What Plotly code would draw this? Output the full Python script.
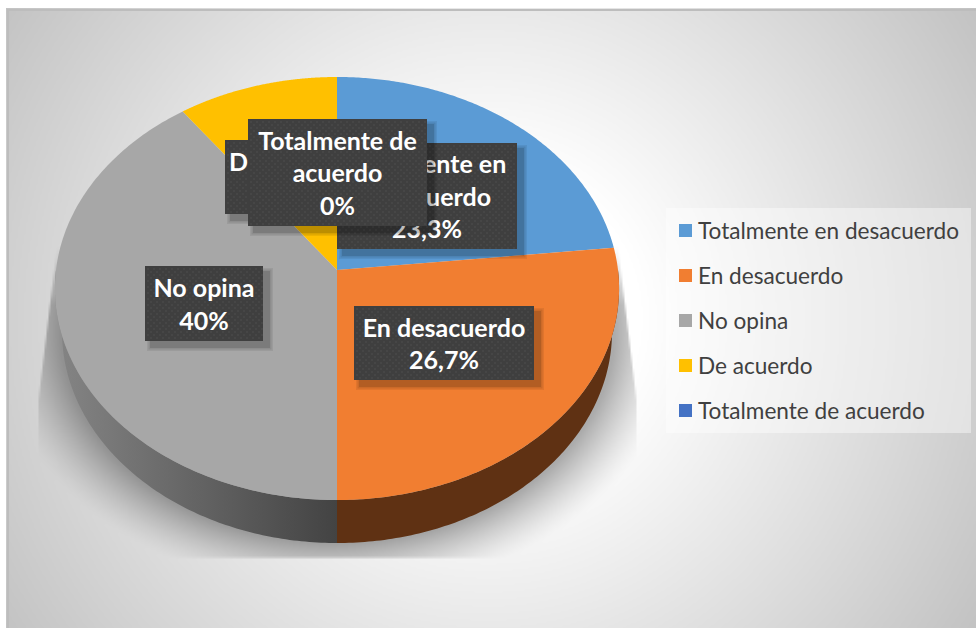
import numpy as np
import plotly.graph_objects as go

categories = ["Totalmente en desacuerdo", "En desacuerdo", "No opina", "De acuerdo", "Totalmente de acuerdo"]
values = [23.3, 26.7, 40, 10, 0]
face_colors = ["#5B9BD5", "#F17E31", "#A7A7A7", "#FFC000", "#4472C4"]
wall_colors = ["#3A5F82", "#5F3113", None, "#9A7400", "#29457A"]
label_lines = [["Totalmente en", "desacuerdo"], ["En desacuerdo"], ["No opina"], ["De acuerdo"], ["Totalmente de", "acuerdo"]]
# label box: left, top, right, bottom (page pixels)
label_boxes = [(337, 143, 517, 249), (354, 306, 534, 380), (145, 266, 263, 341), (225, 140, 361, 214), (248, 119, 427, 226)]

W, H = 976, 628
CX, CY, RX, RY, P = 337.0, 270.0, 281.0, 209.9, 0.0875
DEPTH = 43.0
WALL_SX = 0.975
FONT = "Lato"


def rim(theta_deg, shift=0.0, sx=1.0):
    t = np.radians(theta_deg)
    k = 1 / (1 + P * np.cos(t))
    return CX + RX * sx * np.sin(t) * k, CY + shift - RY * np.cos(t) * k


def background():
    step = 2
    xs = np.arange(7, W + step, step, dtype=float)
    ys = np.arange(9, H + step, step, dtype=float)
    X, Y = np.meshgrid(xs, ys)
    r = np.hypot(X - 488, Y - 318)
    g = 255 - 61 * np.clip((r - 150) / 430, 0, 1.1)
    # soft shadow under the pie, clipped to a trapezoid
    rho = np.hypot((X - CX) / 277, (Y - (CY + DEPTH + 18)) / 212)
    d = (rho - 1) * 230
    alpha = 0.33 * np.clip(1 - d / 55, 0, 1) ** 1.4
    yy = np.clip((Y - 250) / 150, 0, 1)
    mask = np.clip((X - (55 - 18 * yy)) / 2, 0, 1) * np.clip(((619 + 18 * yy) - X) / 2, 0, 1)
    mask = mask * np.clip((558 - Y) / 1.5, 0, 1) * np.clip((Y - 245) / 60, 0, 1)
    g = g * (1 - alpha * mask)
    return xs, ys, np.round(g).astype(np.uint8)


fig = go.Figure()
xs, ys, zz = background()
fig.add_trace(go.Heatmap(x=xs, y=ys, z=zz, zmin=0, zmax=255, zsmooth="best", showscale=False, hoverinfo="skip",
                         colorscale=[[0, "#000000"], [1, "#ffffff"]]))

# pie geometry from the values
total = sum(values)
edges = np.concatenate([[0], np.cumsum(values)]) / total * 360

# side walls
for i, cat in enumerate(categories):
    a, b = max(edges[i], 90), min(edges[i + 1], 270)
    if b <= a:
        continue
    th = np.linspace(a, b, 120)
    x1, y1 = rim(th)
    x2, y2 = rim(th[::-1], DEPTH, WALL_SX)
    kw = dict(fillcolor=wall_colors[i]) if wall_colors[i] else dict(
        fillgradient=dict(type="horizontal", start=55, stop=337, colorscale=[[0, "#858585"], [1, "#434343"]]))
    fig.add_trace(go.Scatter(x=np.r_[x1, x2], y=np.r_[y1, y2], fill="toself", mode="none", showlegend=False,
                             hoverinfo="skip", name=cat + " (lado)", **kw))

# top faces
for i, cat in enumerate(categories):
    if values[i] <= 0:
        continue
    th = np.linspace(edges[i], edges[i + 1], 160)
    x1, y1 = rim(th)
    fig.add_trace(go.Scatter(x=np.r_[CX, x1, CX], y=np.r_[CY, y1, CY], fill="toself", mode="none",
                             fillcolor=face_colors[i], name=cat, showlegend=False))


def rect(l, t, r, b):
    return [l, r, r, l, l], [t, t, b, b, t]


# data label boxes, drawn in stacking order
for i in [0, 1, 2, 3, 4]:
    l, t, r, b = label_boxes[i]
    for grow, op in [(4, 0.07), (2.5, 0.09), (1, 0.12)]:
        sx, sy = rect(l + 6 - grow, t + 6 - grow, r + 6 + grow, b + 6 + grow)
        fig.add_trace(go.Scatter(x=sx, y=sy, fill="toself", mode="none", fillcolor=f"rgba(0,0,0,{op})",
                                 showlegend=False, hoverinfo="skip"))
    sx, sy = rect(l, t, r, b)
    fig.add_trace(go.Scatter(x=sx, y=sy, fill="toself", mode="none", fillcolor="#3F3F3F", showlegend=False,
                             hoverinfo="skip"))
    dx, dy = [], []
    for row, yy in enumerate(np.arange(t + 3, b, 3.0)):
        for xx in np.arange(l + 3 + (row % 2) * 3, r, 6.0):
            dx.append(xx)
            dy.append(yy)
    fig.add_trace(go.Scatter(x=dx, y=dy, mode="markers", marker=dict(size=2, color="#4A4A4A"), showlegend=False,
                             hoverinfo="skip"))
    pct = f"{values[i]:g}".replace(".", ",") + "%"
    fig.add_trace(go.Scatter(x=[(l + r) / 2], y=[(t + b) / 2 + 3.5], mode="text",
                             text=["<br>".join(label_lines[i] + [pct])],
                             textposition="middle center", showlegend=False, hoverinfo="skip",
                             textfont=dict(family=FONT, size=25, color="#FFFFFF", weight="bold")))

# legend panel
sx, sy = rect(666, 208, 971, 433)
fig.add_trace(go.Scatter(x=sx, y=sy, fill="toself", mode="none", fillcolor="rgba(255,255,255,0.42)", showlegend=False,
                         hoverinfo="skip"))
for i, cat in enumerate(categories):
    y = 230.5 + 45 * i
    fig.add_trace(go.Scatter(x=[685.5], y=[y], mode="markers", showlegend=False, hoverinfo="skip",
                             marker=dict(symbol="square", size=13, color=face_colors[i])))
    fig.add_trace(go.Scatter(x=[698], y=[y + 2.5], mode="text", text=[cat], textposition="middle right",
                             showlegend=False, hoverinfo="skip",
                             textfont=dict(family=FONT, size=22.6, color="#404040")))

fig.update_layout(
    width=W, height=H, autosize=False, margin=dict(l=0, r=0, t=0, b=0), paper_bgcolor="#FFFFFF", plot_bgcolor="#FFFFFF",
    showlegend=False,
    xaxis=dict(range=[0, W], visible=False, fixedrange=True),
    yaxis=dict(range=[H, 0], visible=False, fixedrange=True),
    shapes=[
        dict(type="line", x0=7, x1=W, y0=10, y1=10, line=dict(color="#BDBDBD", width=2), layer="above"),
        dict(type="line", x0=8, x1=8, y0=9, y1=H, line=dict(color="#BDBDBD", width=2), layer="above"),
    ],
)
fig.write_html("out.html", config={"displayModeBar": False},
               post_script="document.body.style.margin='0';document.body.style.overflow='hidden';")
